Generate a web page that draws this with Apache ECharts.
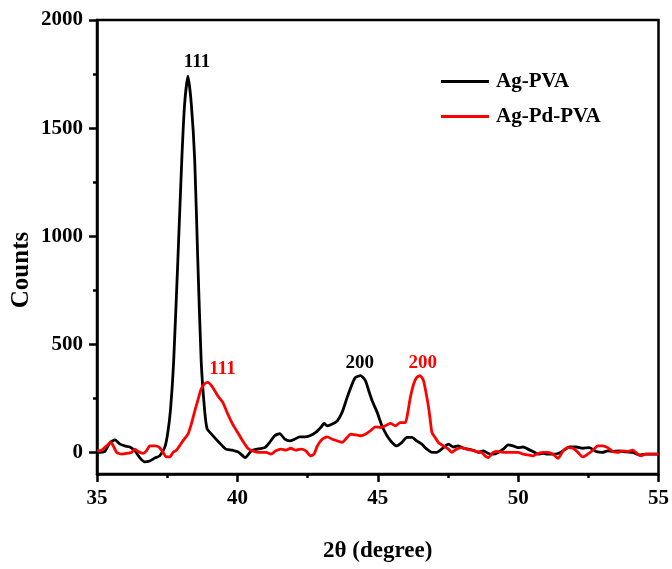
<!DOCTYPE html>
<html>
<head>
<meta charset="utf-8">
<script src="https://cdn.jsdelivr.net/npm/echarts@6/dist/echarts.min.js"></script>
<style>
html,body{margin:0;padding:0;background:#fff;}
#chart{width:672px;height:569px;}
</style>
</head>
<body>
<div id="chart"></div>
<script>
// ---- data ----
const seriesNames = ['Ag-PVA', 'Ag-Pd-PVA'];

const agPvaTheta = [35.00,35.28,35.46,35.64,35.82,35.99,36.17,36.35,36.52,36.70,36.88,37.06,37.23,37.41,37.52,37.62,37.73,37.88,38.02,38.12,38.24,38.36,38.48,38.59,38.71,38.83,38.92,39.11,39.35,39.59,39.81,40.05,40.28,40.50,40.74,40.98,41.15,41.33,41.51,41.69,41.87,42.04,42.22,42.40,42.58,42.79,42.97,43.09,43.20,43.38,43.56,43.73,43.91,44.09,44.21,44.39,44.56,44.68,44.80,44.98,45.15,45.33,45.51,45.68,45.86,46.04,46.22,46.39,46.57,46.75,46.93,47.10,47.34,47.52,47.70,47.87,48.05,48.23,48.40,48.58,48.76,48.94,49.11,49.29,49.47,49.65,49.82,50.00,50.18,50.35,50.53,50.71,50.89,51.06,51.24,51.42,51.60,51.83,52.07,52.30,52.54,52.78,53.01,53.19,53.37,53.61,53.84,54.08,54.32,54.55,55.00];
const agPvaCounts = [0,5,45,58,38,30,25,7,-24,-44,-40,-26,-16,22,90,200,420,889,1353,1610,1740,1610,1353,889,425,200,110,80,46,15,10,0,-24,7,16,22,46,77,87,61,53,61,72,72,77,92,115,134,123,131,146,185,254,317,347,355,332,285,239,185,123,77,46,30,46,69,69,53,38,15,0,0,22,38,25,30,19,15,10,0,7,-5,-8,0,15,35,30,22,25,15,4,-8,-5,-8,-8,-5,7,25,25,19,22,4,0,7,4,7,2,0,-12,-8,-8];

const agPdPvaTheta = [35.00,35.17,35.34,35.50,35.58,35.70,35.88,36.05,36.23,36.35,36.46,36.64,36.76,36.88,37.06,37.23,37.35,37.47,37.59,37.71,37.83,37.94,38.06,38.24,38.36,38.48,38.59,38.70,38.83,38.95,39.12,39.30,39.48,39.66,39.83,40.01,40.19,40.37,40.54,40.78,41.02,41.20,41.37,41.55,41.73,41.90,42.08,42.26,42.44,42.61,42.73,42.85,43.02,43.20,43.38,43.56,43.73,43.91,44.03,44.21,44.39,44.56,44.74,44.92,45.10,45.27,45.45,45.63,45.80,45.98,46.06,46.16,46.28,46.39,46.51,46.63,46.75,46.81,46.87,46.93,47.04,47.16,47.34,47.52,47.63,47.81,47.99,48.17,48.34,48.52,48.70,48.82,48.94,49.11,49.29,49.47,49.65,49.82,50.00,50.18,50.35,50.53,50.71,50.89,51.06,51.24,51.42,51.60,51.77,51.95,52.13,52.30,52.48,52.66,52.84,53.01,53.19,53.37,53.55,53.72,53.90,54.08,54.26,54.37,54.55,55.00];
const agPdPvaCounts = [7,10,30,46,30,0,-8,-5,0,15,4,-5,7,30,30,22,0,-21,-21,0,10,30,53,84,131,190,240,290,317,324,301,262,231,177,131,92,53,19,7,0,0,-8,7,15,10,19,10,15,7,-16,-8,30,61,72,61,53,46,69,84,81,77,84,100,118,115,123,134,123,138,138,177,254,317,347,355,332,254,208,150,92,69,46,30,15,0,15,22,15,10,4,0,-16,-24,0,4,0,0,0,0,-8,-12,-16,-5,0,0,-8,-28,7,22,19,0,-21,-8,10,30,30,22,4,0,7,4,10,-8,-16,-8,-8];

// peak annotations (hkl label, 2θ, counts)
const agPvaPeakLabels   = ['111', '200'];
const agPvaPeakTheta    = [38.56, 44.36];
const agPvaPeakCounts   = [1804, 411];
const agPdPvaPeakLabels = ['111', '200'];
const agPdPvaPeakTheta  = [39.47, 46.60];
const agPdPvaPeakCounts = [383, 411];

const xTicks = [35, 40, 45, 50, 55];
const yMajorTicks = [0, 500, 1000, 1500, 2000];
const yMinorTicks = [250, 750, 1250, 1750];

// ---- chart ----
const FONT = "'Liberation Serif','Times New Roman',serif";
const zip = (a, b) => a.map((v, i) => [v, b[i]]);
const peaks = (labels, xs, ys, color) => labels.map((t, i) => ({
  coord: [xs[i], ys[i]], value: t,
  label: {show: true, formatter: t, color: color, fontFamily: FONT, fontWeight: 'bold', fontSize: 19, position: 'inside'}
}));

const chart = echarts.init(document.getElementById('chart'), null, {renderer: 'canvas'});
chart.setOption({
  animation: false,
  backgroundColor: '#fff',
  grid: {left: 97, right: 11, top: 20, bottom: 95, show: true, borderColor: '#000', borderWidth: 2.5, backgroundColor: 'transparent'},
  legend: {
    data: seriesNames.map(n => ({name: n, icon: 'rect'})),
    orient: 'vertical',
    left: 441, top: 71, padding: 0,
    itemWidth: 48, itemHeight: 3, itemGap: 14,
    textStyle: {fontFamily: FONT, fontWeight: 'bold', fontSize: 21, color: '#000', padding: [0, 0, 0, 2]}
  },
  xAxis: {
    type: 'value', min: 35, max: 55, interval: 5,
    name: '2θ (degree)', nameLocation: 'middle', nameGap: 66,
    nameTextStyle: {fontFamily: FONT, fontWeight: 'bold', fontSize: 23, color: '#000'},
    axisLine: {show: true, onZero: false, lineStyle: {color: '#000', width: 2.5}},
    axisTick: {show: true, inside: false, length: 8, lineStyle: {color: '#000', width: 2.5}},
    minorTick: {show: true, splitNumber: 2, length: 4, lineStyle: {color: '#000', width: 2.5}},
    axisLabel: {margin: 14, fontFamily: FONT, fontWeight: 'bold', fontSize: 21, color: '#000',
      customValues: xTicks, formatter: v => String(v)},
    splitLine: {show: false}
  },
  yAxis: [{
    type: 'value', min: -100, max: 2000,
    axisLine: {show: true, onZero: false, lineStyle: {color: '#000', width: 2.5}},
    axisTick: {show: true, inside: false, length: 8, lineStyle: {color: '#000', width: 2.5}, customValues: yMajorTicks},
    axisLabel: {margin: 14, fontFamily: FONT, fontWeight: 'bold', fontSize: 21, color: '#000',
      customValues: yMajorTicks, formatter: v => String(v)},
    splitLine: {show: false}
  }, {
    type: 'value', min: -100, max: 2000, position: 'left', offset: 0,
    axisLine: {show: false},
    axisTick: {show: true, inside: false, length: 4, lineStyle: {color: '#000', width: 2.5}, customValues: yMinorTicks},
    axisLabel: {show: false, customValues: yMinorTicks},
    splitLine: {show: false}
  }],
  graphic: [{
    type: 'text', x: 22, y: 270, rotation: Math.PI / 2,
    style: {text: 'Counts', fontFamily: FONT, fontWeight: 'bold', fontSize: 25, fill: '#000', textAlign: 'center', textVerticalAlign: 'middle'}
  }],
  series: [{
    name: seriesNames[0], type: 'line', yAxisIndex: 0,
    data: zip(agPvaTheta, agPvaCounts),
    showSymbol: false, symbol: 'none', smooth: 0.2,
    lineStyle: {color: '#000', width: 2.8}, itemStyle: {color: '#000'},
    markPoint: {symbol: 'circle', symbolSize: 0, data: peaks(agPvaPeakLabels, agPvaPeakTheta, agPvaPeakCounts, '#000')}
  }, {
    name: seriesNames[1], type: 'line', yAxisIndex: 0,
    data: zip(agPdPvaTheta, agPdPvaCounts),
    showSymbol: false, symbol: 'none', smooth: 0.2,
    lineStyle: {color: '#ff0000', width: 2.8}, itemStyle: {color: '#ff0000'},
    markPoint: {symbol: 'circle', symbolSize: 0, data: peaks(agPdPvaPeakLabels, agPdPvaPeakTheta, agPdPvaPeakCounts, '#ff0000')}
  }]
});
</script>
</body>
</html>
